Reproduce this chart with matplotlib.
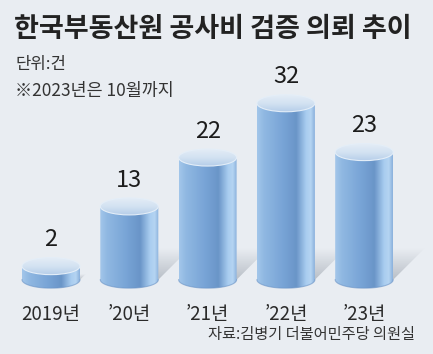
import numpy as np
import matplotlib
matplotlib.use("Agg")
import matplotlib.pyplot as plt
from matplotlib.colors import LinearSegmentedColormap
from matplotlib.patches import Ellipse, PathPatch, Polygon
from matplotlib.path import Path

# data
years = ["2019년", "\u201920년", "\u201921년", "\u201922년", "\u201923년"]
counts = [2, 13, 22, 32, 23]

title = "한국부동산원 공사비 검증 의뢰 추이"
unit_note = "단위:건"
period_note = "※2023년은 10월까지"
source = "자료:김병기 더불어민주당 의원실"

BG = "#e9edf2"
KR = "Noto Sans CJK KR"
NARROW = ["Liberation Sans Narrow", KR, "DejaVu Sans"]

W, H = 433, 354
fig = plt.figure(figsize=(W / 100, H / 100), dpi=100)
fig.patch.set_facecolor(BG)
ax = fig.add_axes([0, 0, 1, 1])
ax.set_facecolor(BG)
ax.axis("off")

# pixel scale of the chart area: 78.3 px per category, 5.43 px per count
px_x, px_y = 78.3, 5.43
x0, y0 = 51, 77  # pixel position of category 0 / value 0 (from bottom)
xlim = (-x0 / px_x, (W - x0) / px_x)
ylim = (-y0 / px_y, (H - y0) / px_y)

bar_w = 58 / px_x
ell_h = 17 / px_y
base = -0.5

body_cmap = LinearSegmentedColormap.from_list("body", [
    (0.0, "#a3c6ea"), (0.12, "#90b8e2"), (0.45, "#78a4d6"),
    (0.68, "#6a95c8"), (0.85, "#a9cdf0"), (0.93, "#b5d4f2"), (1.0, "#8ab1dc")])
top_cmap = LinearSegmentedColormap.from_list("top", ["#b5cde9", "#d3e2f2", "#e3ecf6"])
shadow_cmap = LinearSegmentedColormap.from_list("shadow", ["#b9bfc7", BG])

grad_h = np.linspace(0, 1, 256).reshape(1, -1)
grad_v = np.linspace(0, 1, 256).reshape(-1, 1)

# shadows first, all behind the cylinders
for i, v in enumerate(counts):
    sx = min(32, 3 * v) / px_x
    sy = min(32, 3 * v) / px_y
    p0 = (i - bar_w / 2, base)
    p1 = (i + bar_w / 2, base)
    pts = [p0, p1, (p1[0] + sx, p1[1] + sy), (p0[0] + sx, p0[1] + sy)]
    sh = Polygon(pts, closed=True, facecolor="none", edgecolor="none")
    ax.add_patch(sh)
    yy, xx = np.mgrid[0:1:64j, 0:1:64j]
    img = ax.imshow(yy, cmap=shadow_cmap, origin="lower", aspect="auto",
                    extent=[p0[0], p1[0] + sx, base, base + sy], zorder=1,
                    vmin=0.0, vmax=1.0)
    img.set_clip_path(sh)

# cylinders
theta = np.linspace(np.pi, 2 * np.pi, 60)
for i, v in enumerate(counts):
    z = 2 + i
    left, right = i - bar_w / 2, i + bar_w / 2
    verts = [(left, v), (left, base)]
    verts += list(zip(i + bar_w / 2 * np.cos(theta), base + ell_h / 2 * np.sin(theta)))
    verts += [(right, base), (right, v), (left, v)]
    body = PathPatch(Path(verts), facecolor="none", edgecolor="none")
    ax.add_patch(body)
    img = ax.imshow(grad_h, cmap=body_cmap, aspect="auto",
                    extent=[left, right, base - ell_h / 2, v], zorder=z)
    img.set_clip_path(body)
    ax.plot(i + bar_w / 2 * np.cos(theta), base + ell_h / 2 * np.sin(theta),
            color="#6a93c6", lw=0.8, alpha=0.6, zorder=z + 0.1)

    top = Ellipse((i, v), bar_w, ell_h, facecolor="none", edgecolor="#e4eef8", lw=0.8,
                  zorder=z + 0.3)
    ax.add_patch(top)
    img = ax.imshow(grad_v, cmap=top_cmap, origin="lower", aspect="auto",
                    extent=[left, right, v - ell_h / 2, v + ell_h / 2], zorder=z + 0.2)
    img.set_clip_path(top)

    ax.annotate(str(v), (i, v), xytext=(0, 19), textcoords="offset points",
                ha="center", va="center", fontsize=17, color="#1c1c1c", family=NARROW)
    ax.annotate(years[i], (i, base), xytext=(0, -25), textcoords="offset points",
                ha="center", va="center", fontsize=13.5, color="#2a2a2a", family=NARROW)

ax.set_xlim(*xlim)
ax.set_ylim(*ylim)

fig.text(14 / W, 1 - 29 / H, title, fontsize=19.5, fontweight="bold", family=KR,
         color="#222222", ha="left", va="center")
fig.text(15 / W, 1 - 65 / H, unit_note, fontsize=12, family=KR, color="#333333",
         ha="left", va="center")
fig.text(15 / W, 1 - 91 / H, period_note, fontsize=12.5, family=KR, color="#333333",
         ha="left", va="center")
fig.text(415 / W, 1 - 334 / H, source, fontsize=11, family=KR, color="#333333",
         ha="right", va="center")

fig.savefig("out.png", dpi=100, facecolor=BG)
